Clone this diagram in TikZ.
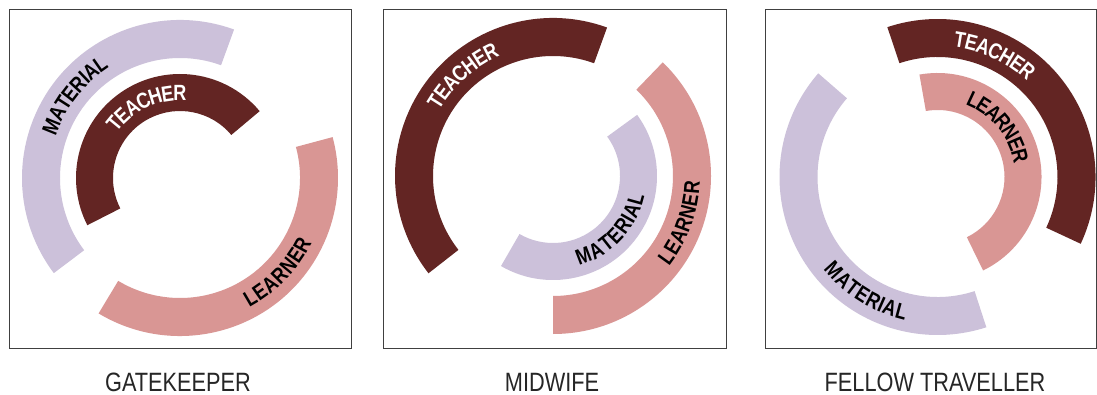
\documentclass[tikz,border=0pt]{standalone}
\usepackage{fontspec}
\setmainfont{Liberation Sans}
\newfontfamily\narrowfont{Liberation Sans}[FakeStretch=0.82]
\usetikzlibrary{decorations.text}
\definecolor{teachercol}{HTML}{632523}
\definecolor{learnercol}{HTML}{D99694}
\definecolor{materialcol}{HTML}{CCC1DA}
\definecolor{framecol}{HTML}{404040}
% colour, inner radius, outer radius, start angle, end angle
\newcommand{\ringseg}[5]{%
  \fill[#1] (#4:#3) arc[start angle=#4, end angle=#5, radius=#3]
    -- (#5:#2) arc[start angle=#5, end angle=#4, radius=#2] -- cycle;}
% text colour, radius, start angle, end angle, text
\newcommand{\ringlabel}[5]{%
  \path[decorate, decoration={text along path,
      text={|\narrowfont\bfseries\fontsize{22}{26}\selectfont|#5},
      text color=#1, text align=center, raise=-7.9pt}]
    (#3:#2) arc[start angle=#3, end angle=#4, radius=#2];}
\tikzset{
  frame/.style={draw=framecol, line width=1pt},
  title/.style={font=\narrowfont\fontsize{26.5}{30}\selectfont, anchor=base, inner sep=0pt, text depth=0pt, text=black!85}
}
\begin{document}
\begin{tikzpicture}[x=1pt, y=1pt]
\useasboundingbox (0,0) rectangle (1097,394);
\fill[white] (0,0) rectangle (1097,394);
% frames
\draw[frame] (9,46) rectangle (351.5,384.7);
\draw[frame] (383.3,46) rectangle (726.7,384.7);
\draw[frame] (765,46) rectangle (1096.5,384.7);
% panel 1: gatekeeper
\begin{scope}[shift={(180,216)}]
  \ringseg{materialcol}{120}{158}{70}{217}
  \ringseg{teachercol}{67}{104}{40}{207}
  \ringseg{learnercol}{120}{158}{-121}{15}
  \ringlabel{black}{139}{187}{97}{MATERIAL}
  \ringlabel{white}{85.5}{160}{70}{TEACHER}
  \ringlabel{black}{139}{-89}{1}{LEARNER}
\end{scope}
% panel 2: midwife
\begin{scope}[shift={(553,218)}]
  \ringseg{teachercol}{120}{158}{70}{218}
  \ringseg{learnercol}{120}{158}{-90}{46}
  \ringseg{materialcol}{67}{104}{-120}{36}
  \ringlabel{white}{139}{177}{87}{TEACHER}
  \ringlabel{black}{85.5}{-88}{2}{MATERIAL}
  \ringlabel{black}{139}{-65}{25}{LEARNER}
\end{scope}
% panel 3: fellow traveller
\begin{scope}[shift={(937.5,217)}]
  \ringseg{teachercol}{120}{158}{-25}{108.5}
  \ringseg{learnercol}{67}{104}{-64}{100}
  \ringseg{materialcol}{120}{158}{139}{288}
  \ringlabel{white}{139}{110}{20}{TEACHER}
  \ringlabel{black}{85.5}{84.5}{-5.5}{LEARNER}
  \ringlabel{black}{139}{193}{283}{MATERIAL}
\end{scope}
% titles
\node[title] (t1) at (178,3) {GATEKEEPER};
\node[title] (t2) at (552,3) {MIDWIFE};
\node[title] (t3) at (935,3) {FELLOW TRAVELLER};
\end{tikzpicture}
\end{document}
